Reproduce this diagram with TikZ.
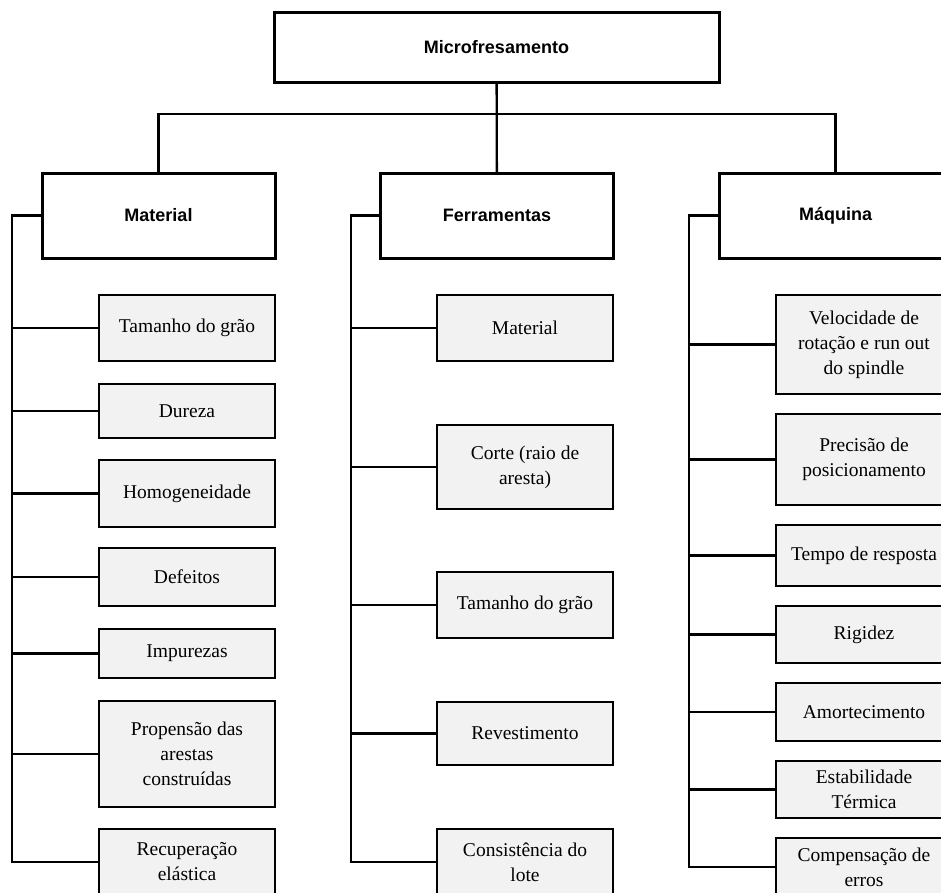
\documentclass[tikz,border=0pt]{standalone}
\usepackage{fontspec}
\setmainfont{Liberation Serif}
\setsansfont{Liberation Sans}
\usetikzlibrary{backgrounds}
\begin{document}
\begin{tikzpicture}[x=1pt,y=-1pt,
  conn/.style={line width=2.3pt, line cap=rect},
  head/.style={draw, line width=3pt, fill=white, minimum width=233pt, minimum height=85pt,
    inner sep=0pt, font=\sffamily\bfseries\fontsize{18}{21}\selectfont},
  leaf/.style={draw, line width=2.5pt, fill=black!5, minimum width=176pt, inner sep=0pt,
    align=center, font=\rmfamily\fontsize{19.5}{25}\selectfont}]
\clip (0,0) rectangle (941,892);
% root
\node[head, minimum width=445pt, minimum height=70pt] (root) at (496.5,47) {Microfresamento};
% headers
\node[head] (mat) at (158.5,215.5) {Material};
\node[head] (fer) at (497,215.5) {Ferramentas};
\node[head] (maq) at (835.5,215.5) {Máquina};
% Material column
\node[leaf, minimum height=66pt] (m1) at (187,328) {Tamanho do grão};
\node[leaf, minimum height=54pt] (m2) at (187,411) {Dureza};
\node[leaf, minimum height=67pt] (m3) at (187,493.5) {Homogeneidade};
\node[leaf, minimum height=58pt] (m4) at (187,577) {Defeitos};
\node[leaf, minimum height=49pt] (m5) at (187,653.5) {Impurezas};
\node[leaf, minimum height=106pt] (m6) at (187,754) {Propensão das\\arestas\\construídas};
\node[leaf, minimum height=66pt] (m7) at (187,862) {Recuperação\\elástica};
% Ferramentas column
\node[leaf, minimum height=66pt] (f1) at (525,328) {Material};
\node[leaf, minimum height=84pt] (f2) at (525,467) {Corte (raio de\\aresta)};
\node[leaf, minimum height=66pt] (f3) at (525,605) {Tamanho do grão};
\node[leaf, minimum height=63pt] (f4) at (525,733.5) {Revestimento};
\node[leaf, minimum height=66pt] (f5) at (525,862) {Consistência do\\lote};
% Maquina column
\node[leaf, minimum height=99pt] (q1) at (864,344.5) {Velocidade de\\rotação e run out\\do spindle};
\node[leaf, minimum height=91pt] (q2) at (864,459.5) {Precisão de\\posicionamento};
\node[leaf, minimum height=61pt] (q3) at (864,555.5) {Tempo de resposta};
\node[leaf, minimum height=57pt] (q4) at (864,634.5) {Rigidez};
\node[leaf, minimum height=58pt] (q5) at (864,712) {Amortecimento};
\node[leaf, minimum height=57pt] (q6) at (864,789.5) {Estabilidade\\Térmica};
\node[leaf, minimum height=58pt] (q7) at (864,867) {Compensação de\\erros};
% spine coordinates
\coordinate (sm) at (12,0);
\coordinate (sf) at (351,0);
\coordinate (sq) at (689,0);
\begin{scope}[on background layer]
\fill[white] (0,0) rectangle (941,892);
% top connectors
\draw[conn] (root.center) -- (fer.center);
\draw[conn] (mat.center) -- ++(0,-101.5) -| (maq.center);
% material spine
\draw[conn] (mat.center) -- (mat.west -| sm) -- (m7.west -| sm) -- (m7.center);
\foreach \n in {m1,m2,m3,m4,m5,m6} \draw[conn] (\n.center) -- (\n.west -| sm);
% ferramentas spine
\draw[conn] (fer.center) -- (fer.west -| sf) -- (f5.west -| sf) -- (f5.center);
\foreach \n in {f1,f2,f3,f4} \draw[conn] (\n.center) -- (\n.west -| sf);
% maquina spine
\draw[conn] (maq.center) -- (maq.west -| sq) -- (q7.west -| sq) -- (q7.center);
\foreach \n in {q1,q2,q3,q4,q5,q6} \draw[conn] (\n.center) -- (\n.west -| sq);
\end{scope}
\end{tikzpicture}
\end{document}
